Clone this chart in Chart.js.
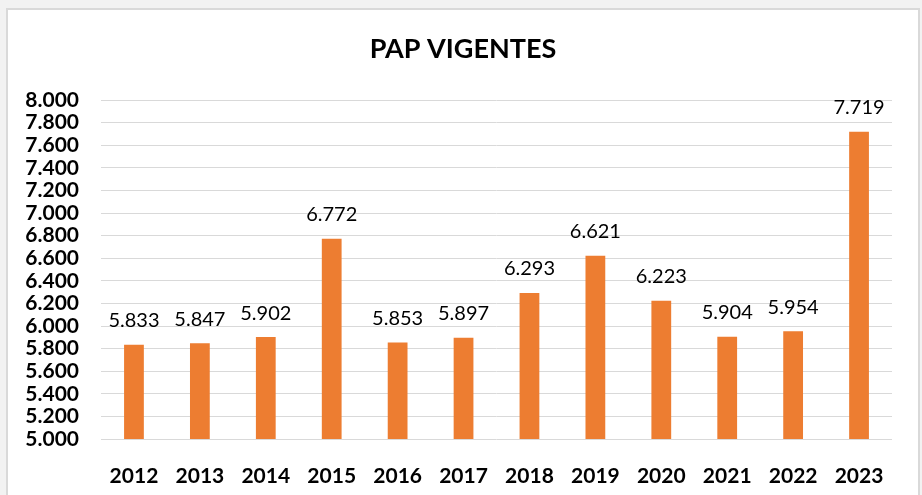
<!DOCTYPE html>
<html>
<head>
<meta charset="utf-8">
<script src="https://cdn.jsdelivr.net/npm/chart.js@4"></script>
<style>
    html, body { margin: 0; padding: 0; background: #f2f2f2; }
    #box {
        position: absolute; left: 6px; top: 8px;
        width: 910px; height: 485px;
        background: #fff; border: 2px solid #d9d9d9; border-bottom: none;
    }
    canvas { display: block; }
</style>
</head>
<body>
<div id="box"><canvas id="papChart" width="910" height="485"></canvas></div>
<script>
const chartTitle = 'PAP VIGENTES';
const years = ['2012', '2013', '2014', '2015', '2016', '2017', '2018', '2019', '2020', '2021', '2022', '2023'];
const papVigentes = [5833, 5847, 5902, 6772, 5853, 5897, 6293, 6621, 6223, 5904, 5954, 7719];
const yMin = 5000;
const yMax = 8000;
const yStep = 200;

function fmt(v) {
    // thousands separator is a dot, like the original
    return String(v).replace(/\B(?=(\d{3})+(?!\d))/g, '.');
}

// value labels over the bars + title centred on the whole box
const barLabels = {
    id: 'barLabels',
    afterDatasetsDraw(chart) {
        const ctx = chart.ctx;
        const meta = chart.getDatasetMeta(0);
        ctx.save();
        ctx.font = '20px Lato, "Open Sans", sans-serif';
        ctx.fillStyle = '#000';
        ctx.textAlign = 'center';
        ctx.textBaseline = 'bottom';
        meta.data.forEach((bar, i) => {
            ctx.fillText(fmt(papVigentes[i]), bar.x, bar.y - 14);
        });

        ctx.font = 'bold 27px Lato, "Open Sans", sans-serif';
        ctx.textBaseline = 'middle';
        ctx.fillText(chartTitle, chart.width / 2, 39);
        ctx.restore();
    }
};

Chart.defaults.font.family = 'Lato, "Open Sans", sans-serif';
Chart.defaults.color = '#000';

new Chart(document.getElementById('papChart'), {
    type: 'bar',
    data: {
        labels: years,
        datasets: [{
            label: chartTitle,
            data: papVigentes,
            backgroundColor: '#ed7d31',
            barPercentage: 0.6,
            categoryPercentage: 0.5
        }]
    },
    options: {
        responsive: false,
        animation: false,
        layout: { padding: { left: 0, right: 26, top: 90, bottom: 0 } },
        plugins: {
            legend: { display: false },
            tooltip: { enabled: false },
            title: { display: false }
        },
        scales: {
            x: {
                grid: { display: false },
                border: { display: false },
                ticks: { font: { size: 21, weight: 'bold' }, padding: 17, color: '#000', autoSkip: false, maxRotation: 0 },
                afterFit(scale) { scale.height = 56; }
            },
            y: {
                min: yMin,
                max: yMax,
                grid: { color: '#d9d9d9', lineWidth: 1, drawTicks: false },
                border: { display: false },
                ticks: {
                    stepSize: yStep,
                    autoSkip: false,
                    padding: 22,
                    color: '#000',
                    font: { size: 21, weight: 'bold' },
                    callback: v => fmt(v)
                },
                afterFit(scale) { scale.width = 93; }
            }
        }
    },
    plugins: [barLabels]
});
</script>
</body>
</html>
